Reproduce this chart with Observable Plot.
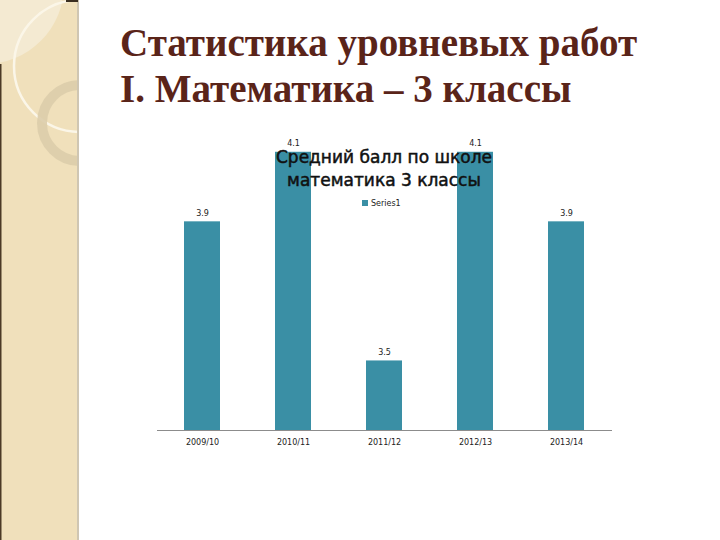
<!DOCTYPE html>
<html>
<head>
<meta charset="utf-8">
<script src="https://cdn.jsdelivr.net/npm/d3@7"></script>
<script src="https://cdn.jsdelivr.net/npm/@observablehq/plot@0.6"></script>
<style>
  html, body { margin: 0; padding: 0; background: #fff; }
  #slide { position: relative; width: 720px; height: 540px; overflow: hidden; background: #fff; }
  #deco { position: absolute; left: 0; top: 0; }
  #title { position: absolute; left: 120px; top: 20px; font-family: "Liberation Serif", "Times New Roman", serif;
    font-weight: bold; font-size: 39px; line-height: 46px; color: #5a2419; white-space: nowrap; }
  #chart { position: absolute; left: 0; top: 0; }
  #ctitle { position: absolute; left: 234px; width: 300px; top: 146px; text-align: center;
    font-family: "DejaVu Sans", Verdana, sans-serif; font-size: 17px; line-height: 23px; color: #111;
    -webkit-text-stroke: 0.5px #111; }
  #legend { position: absolute; left: 362px; top: 199px; font-family: "DejaVu Sans", sans-serif; font-size: 8px; color: #222; }
  #legend span.sw { display: inline-block; width: 6px; height: 6px; background: #3a8fa5; margin-right: 3px; vertical-align: 0px; }
</style>
</head>
<body>
<div id="slide">
  <svg id="deco" width="80" height="540">
    <defs><clipPath id="c"><rect x="0" y="0" width="79" height="540"/></clipPath></defs>
    <g clip-path="url(#c)">
      <rect x="0" y="0" width="79" height="540" fill="#f0e0bb"/>
      <circle cx="-15" cy="-15" r="79" fill="#f4ead2"/>
      <circle cx="80" cy="66" r="66" fill="none" stroke="#fbf6e8" stroke-width="2.5"/>
      <circle cx="80" cy="123" r="38" fill="none" stroke="#dccdab" stroke-width="10" opacity="0.9"/>
      <rect x="0" y="64" width="1.5" height="476" fill="#4b3a26"/>
      <rect x="77" y="0" width="2" height="540" fill="#cfc6b2"/>
      <rect x="66" y="0" width="12" height="2" fill="#3a2e20"/>
    </g>
  </svg>
  <div id="title">Статистика уровневых работ<br>I. Математика – 3 классы</div>
  <div id="chartwrap"></div>
  <div id="ctitle">Средний балл по школе<br>математика 3 классы</div>
  <div id="legend"><span class="sw"></span>Series1</div>
</div>
<script>
const years = ["2009/10", "2010/11", "2011/12", "2012/13", "2013/14"];
const scores = [3.9, 4.1, 3.5, 4.1, 3.9];
const seriesName = "Series1";
const yDomain = [3.3, 4.2];

const data = years.map((y, i) => ({year: y, score: scores[i]}));

const chart = Plot.plot({
  width: 720,
  height: 540,
  marginLeft: 157,
  marginRight: 108,
  marginTop: 117,
  marginBottom: 110,
  style: {background: "transparent", fontFamily: "DejaVu Sans, sans-serif"},
  x: {domain: years, paddingInner: 0.6, paddingOuter: 0.3, label: null},
  y: {domain: yDomain, axis: null},
  marks: [
    Plot.barY(data, {x: "year", y: "score", fill: "#3a8fa5", clip: true}),
    Plot.ruleY([yDomain[0]], {stroke: "#8c8c8c", strokeWidth: 1}),
    Plot.text(data, {x: "year", y: "score", text: d => d.score.toFixed(1), lineAnchor: "bottom", dy: -6, fontSize: 8, fill: "#222"}),
    Plot.axisX({tickSize: 0, tickPadding: 9, fontSize: 8, color: "#222", label: null})
  ]
});
chart.id = "chart";
document.getElementById("chartwrap").appendChild(chart);
</script>
</body>
</html>
